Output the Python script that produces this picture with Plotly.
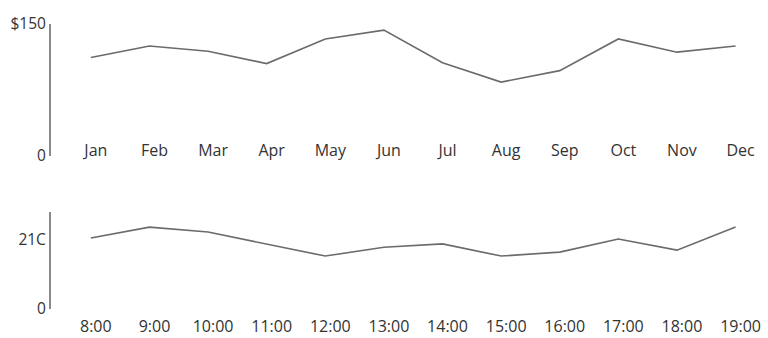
import plotly.graph_objects as go

months = ["Jan", "Feb", "Mar", "Apr", "May", "Jun", "Jul", "Aug", "Sep", "Oct", "Nov", "Dec"]
sales = [112, 125, 119, 105, 133, 143, 106, 84, 97, 133, 118, 125]

hours = ["8:00", "9:00", "10:00", "11:00", "12:00", "13:00", "14:00", "15:00", "16:00", "17:00", "18:00", "19:00"]
temps = [21.6, 24.9, 23.4, 19.8, 16.1, 18.8, 19.8, 16.1, 17.3, 21.3, 17.9, 24.9]

sales_ticks = [0, 150]
sales_ticktext = ["0", "$150"]
temp_ticks = [0, 21]
temp_ticktext = ["0", "21C"]

FONT = "Open Sans"
TXT = "#333333"
LINE = "#6b6b6b"
AXIS = "#8a8a8a"

fig = go.Figure()
fig.add_trace(go.Scatter(x=months, y=sales, mode="lines", xaxis="x", yaxis="y",
                         line=dict(color=LINE, width=1.6), showlegend=False, hoverinfo="skip"))
fig.add_trace(go.Scatter(x=hours, y=temps, mode="lines", xaxis="x2", yaxis="y2",
                         line=dict(color=LINE, width=1.6), showlegend=False, hoverinfo="skip"))

common_x = dict(showgrid=False, zeroline=False, showline=False, ticks="", automargin=False,
                range=[-0.68, 11.4], tickfont=dict(family=FONT, size=16, color=TXT),
                ticklabelshift=5, domain=[0, 1])
common_y = dict(showgrid=False, zeroline=False, showline=True, linecolor=AXIS, linewidth=2,
                ticks="", automargin=False, tickfont=dict(family=FONT, size=15.5, color=TXT))

fig.update_layout(
    width=768, height=338,
    margin=dict(l=51, r=9, t=24, b=29, autoexpand=False),
    paper_bgcolor="white", plot_bgcolor="white",
    xaxis=dict(**common_x, anchor="free", position=0.596),
    yaxis=dict(**common_y, domain=[0.5368, 1.0], range=[0, 150],
               tickvals=sales_ticks, ticktext=sales_ticktext, anchor="x"),
    xaxis2=dict(**common_x, anchor="y2", ticklabelstandoff=6),
    yaxis2=dict(**common_y, domain=[0.0, 0.3404], range=[0, 29.5],
                tickvals=temp_ticks, ticktext=temp_ticktext, anchor="x2"),
)

fig.write_html("out.html", config={"displayModeBar": False},
               post_script="document.body.style.margin='0';document.body.style.overflow='hidden';")
